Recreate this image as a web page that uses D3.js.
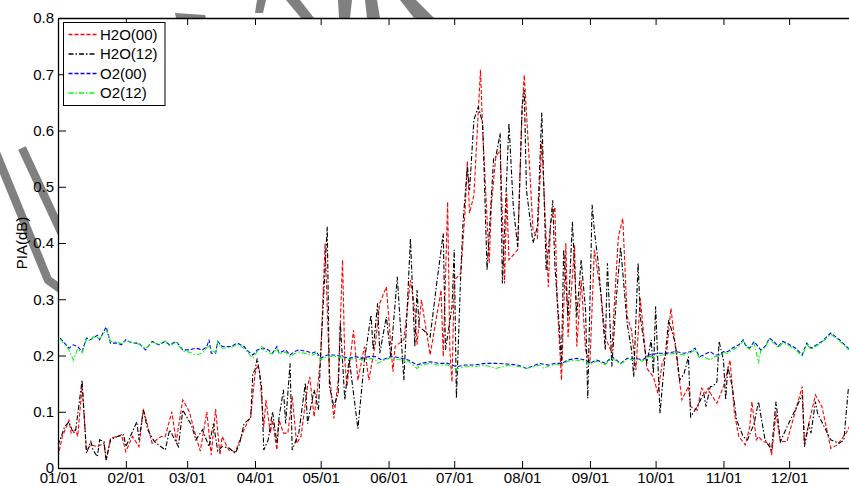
<!DOCTYPE html>
<html>
<head>
<meta charset="utf-8">
<script src="https://cdn.jsdelivr.net/npm/d3@7"></script>
<style>
  body { margin: 0; background: #fff; }
  svg { display: block; font-family: "Liberation Sans", Arial, sans-serif; }
  .axis text { font-size: 15px; fill: #000; }
  .axis path, .axis line { stroke: #000; }
</style>
</head>
<body>
<script>
// day-of-year (0 = 01/01) and PIA value in dB
const h2o00 = [[0,0.02],[2,0.056],[5,0.085],[6,0.062],[8,0.068],[9,0.056],[11,0.145],[13,0.032],[15,0.041],[18,0.038],[21,0.044],[22,0.014],[24,0.053],[27,0.056],[29,0.059],[31,0.029],[34,0.056],[37,0.038],[39,0.105],[43,0.044],[47,0.056],[49,0.056],[52,0.1],[54,0.047],[57,0.121],[60,0.1],[63,0.056],[65,0.03],[68,0.1],[70,0.023],[72,0.105],[74,0.023],[75,0.056],[78,0.032],[81,0.029],[85,0.068],[87,0.085],[88,0.089],[90,0.168],[91,0.18],[92,0.174],[94,0.073],[95,0.121],[97,0.062],[98,0.085],[100,0.032],[101,0.085],[103,0.062],[105,0.062],[107,0.127],[109,0.044],[111,0.056],[114,0.145],[115,0.162],[117,0.091],[118,0.121],[120,0.198],[122,0.4],[124,0.168],[126,0.088],[128,0.156],[130,0.37],[131,0.192],[132,0.145],[135,0.245],[137,0.156],[140,0.216],[142,0.156],[145,0.222],[147,0.293],[150,0.322],[153,0.171],[154,0.216],[158,0.228],[161,0.334],[163,0.281],[164,0.219],[166,0.299],[170,0.201],[175,0.316],[176,0.198],[178,0.473],[179,0.21],[180,0.153],[181,0.334],[184,0.346],[186,0.459],[187,0.545],[188,0.453],[190,0.485],[193,0.708],[194,0.601],[197,0.364],[198,0.47],[200,0.553],[202,0.565],[204,0.328],[205,0.488],[206,0.37],[210,0.388],[212,0.636],[213,0.699],[215,0.565],[217,0.423],[219,0.409],[221,0.58],[224,0.322],[225,0.435],[227,0.464],[228,0.299],[230,0.156],[232,0.4],[233,0.233],[236,0.396],[237,0.216],[239,0.334],[241,0.21],[243,0.186],[245,0.388],[248,0.311],[250,0.233],[253,0.204],[254,0.281],[256,0.411],[258,0.444],[260,0.269],[262,0.245],[264,0.174],[266,0.302],[269,0.177],[272,0.162],[274,0.133],[276,0.186],[278,0.204],[280,0.284],[282,0.216],[285,0.121],[288,0.145],[289,0.109],[292,0.103],[294,0.142],[296,0.133],[297,0.142],[298,0.133],[301,0.115],[304,0.145],[305,0.159],[307,0.192],[309,0.097],[311,0.056],[314,0.041],[316,0.073],[317,0.118],[319,0.05],[320,0.056],[322,0.047],[325,0.044],[326,0.023],[328,0.097],[330,0.047],[333,0.047],[340,0.145],[341,0.044],[343,0.079],[346,0.13],[349,0.109],[353,0.035],[356,0.041],[360,0.062],[363,0.085]];

const h2o12 = [[0,0.04],[2,0.062],[3,0.073],[5,0.082],[7,0.062],[8,0.065],[11,0.156],[13,0.026],[15,0.047],[16,0.032],[18,0.02],[19,0.05],[21,0.047],[22,0.014],[24,0.05],[27,0.056],[30,0.059],[31,0.038],[36,0.082],[37,0.05],[39,0.103],[41,0.068],[44,0.047],[49,0.032],[51,0.068],[55,0.038],[57,0.103],[61,0.076],[63,0.05],[66,0.068],[69,0.038],[71,0.079],[73,0.03],[75,0.038],[78,0.036],[81,0.026],[83,0.044],[85,0.079],[88,0.089],[89,0.168],[90,0.174],[91,0.195],[93,0.145],[94,0.032],[96,0.05],[98,0.1],[100,0.044],[101,0.091],[103,0.139],[104,0.079],[106,0.186],[107,0.032],[110,0.062],[113,0.151],[114,0.079],[117,0.139],[119,0.103],[120,0.204],[123,0.429],[124,0.145],[126,0.109],[128,0.133],[129,0.257],[131,0.121],[133,0.195],[137,0.07],[140,0.192],[143,0.272],[144,0.21],[146,0.293],[147,0.204],[150,0.269],[152,0.198],[155,0.34],[158,0.156],[161,0.408],[163,0.216],[164,0.316],[165,0.251],[167,0.245],[170,0.233],[173,0.328],[176,0.417],[177,0.21],[180,0.287],[181,0.388],[182,0.124],[184,0.346],[185,0.435],[187,0.536],[188,0.494],[190,0.619],[192,0.642],[194,0.613],[196,0.352],[199,0.55],[200,0.553],[202,0.595],[203,0.328],[206,0.613],[208,0.464],[210,0.393],[212,0.642],[213,0.672],[214,0.494],[217,0.4],[219,0.429],[221,0.632],[223,0.352],[224,0.388],[226,0.476],[227,0.358],[229,0.251],[230,0.186],[231,0.388],[233,0.269],[235,0.438],[237,0.269],[239,0.37],[241,0.281],[242,0.124],[244,0.468],[245,0.423],[247,0.358],[250,0.21],[251,0.364],[253,0.18],[255,0.299],[257,0.393],[260,0.257],[262,0.21],[263,0.162],[265,0.364],[266,0.269],[269,0.186],[271,0.228],[272,0.168],[273,0.287],[275,0.097],[277,0.186],[279,0.263],[282,0.222],[284,0.156],[286,0.168],[288,0.198],[289,0.091],[292,0.109],[295,0.133],[296,0.109],[298,0.145],[299,0.145],[301,0.153],[302,0.225],[304,0.192],[305,0.121],[306,0.18],[308,0.145],[310,0.085],[313,0.056],[315,0.05],[318,0.079],[320,0.118],[323,0.05],[326,0.032],[328,0.118],[330,0.047],[333,0.073],[336,0.097],[340,0.13],[341,0.038],[343,0.079],[344,0.062],[346,0.118],[347,0.097],[353,0.05],[357,0.044],[359,0.05],[361,0.139],[363,0.16]];

const o200 = [[1,0.231],[3,0.222],[5,0.213],[7,0.219],[9,0.216],[11,0.207],[13,0.231],[15,0.228],[16,0.231],[18,0.236],[19,0.228],[22,0.251],[24,0.222],[27,0.222],[29,0.219],[31,0.228],[34,0.222],[37,0.222],[40,0.21],[43,0.225],[46,0.219],[49,0.225],[51,0.219],[54,0.225],[57,0.21],[60,0.21],[63,0.213],[66,0.21],[68,0.216],[69,0.228],[70,0.204],[72,0.204],[73,0.225],[75,0.216],[79,0.216],[82,0.222],[85,0.216],[87,0.207],[89,0.201],[91,0.21],[94,0.213],[96,0.21],[98,0.204],[100,0.216],[101,0.204],[104,0.21],[106,0.201],[108,0.207],[110,0.21],[114,0.207],[116,0.204],[118,0.207],[120,0.195],[123,0.201],[126,0.201],[130,0.198],[133,0.195],[136,0.198],[139,0.195],[142,0.198],[145,0.198],[148,0.192],[152,0.198],[155,0.197],[160,0.192],[164,0.183],[166,0.186],[170,0.189],[174,0.186],[178,0.186],[182,0.18],[186,0.183],[190,0.183],[195,0.186],[200,0.186],[205,0.185],[210,0.183],[214,0.177],[218,0.183],[220,0.186],[224,0.183],[227,0.186],[230,0.186],[233,0.192],[237,0.195],[241,0.192],[243,0.186],[246,0.192],[250,0.186],[253,0.198],[257,0.186],[260,0.195],[264,0.195],[267,0.192],[270,0.201],[274,0.204],[278,0.204],[282,0.207],[286,0.204],[289,0.207],[291,0.213],[293,0.198],[295,0.201],[298,0.207],[300,0.201],[302,0.201],[304,0.207],[306,0.207],[308,0.213],[311,0.219],[313,0.228],[314,0.219],[316,0.213],[318,0.225],[321,0.21],[323,0.216],[325,0.231],[327,0.225],[329,0.216],[331,0.225],[333,0.222],[337,0.213],[340,0.201],[342,0.222],[344,0.213],[349,0.225],[353,0.24],[357,0.228],[361,0.213],[364,0.208]];

const o212 = [[1,0.229],[3,0.22],[5,0.21],[7,0.192],[9,0.212],[11,0.205],[13,0.229],[15,0.226],[16,0.233],[18,0.232],[19,0.229],[22,0.246],[24,0.225],[27,0.224],[29,0.221],[31,0.226],[34,0.223],[37,0.22],[40,0.212],[43,0.224],[46,0.22],[49,0.226],[51,0.217],[54,0.224],[57,0.208],[60,0.206],[63,0.201],[66,0.204],[68,0.214],[69,0.216],[70,0.21],[72,0.205],[73,0.224],[75,0.213],[79,0.214],[82,0.22],[85,0.213],[87,0.204],[89,0.195],[91,0.207],[93,0.216],[94,0.21],[96,0.205],[98,0.203],[100,0.212],[101,0.203],[104,0.206],[106,0.198],[108,0.203],[110,0.206],[114,0.203],[116,0.2],[118,0.204],[120,0.192],[123,0.198],[126,0.199],[130,0.195],[133,0.193],[136,0.195],[139,0.192],[142,0.195],[145,0.193],[146,0.186],[148,0.19],[152,0.196],[155,0.193],[160,0.19],[164,0.177],[166,0.183],[170,0.186],[174,0.183],[178,0.183],[182,0.176],[186,0.18],[190,0.18],[195,0.183],[200,0.177],[205,0.182],[210,0.181],[214,0.177],[218,0.181],[220,0.183],[222,0.177],[224,0.181],[227,0.184],[230,0.183],[233,0.19],[237,0.192],[241,0.19],[243,0.183],[246,0.19],[250,0.184],[253,0.195],[257,0.185],[260,0.193],[264,0.193],[267,0.19],[270,0.198],[272,0.198],[274,0.2],[278,0.202],[282,0.204],[286,0.201],[289,0.205],[291,0.21],[293,0.196],[295,0.198],[298,0.192],[300,0.198],[302,0.199],[304,0.205],[306,0.204],[308,0.21],[311,0.216],[313,0.226],[314,0.217],[316,0.211],[318,0.222],[319,0.206],[320,0.186],[321,0.208],[323,0.214],[325,0.229],[327,0.222],[329,0.214],[331,0.222],[333,0.22],[337,0.21],[340,0.199],[342,0.22],[344,0.211],[349,0.223],[353,0.238],[357,0.226],[361,0.211],[364,0.206]];

const yTicks = [0, 0.1, 0.2, 0.3, 0.4, 0.5, 0.6, 0.7, 0.8];
const seriesNames = ["H2O(00)", "H2O(12)", "O2(00)", "O2(12)"];

const width = 849;
const height = 486;
const margin = { top: 18, left: 58, right: -8, bottom: 18 };
const plotRight = width - margin.right;   // frame runs just past the window edge
const plotBottom = height - margin.bottom;

const svg = d3.select("body").append("svg")
  .attr("width", width)
  .attr("height", height);

// grey watermark strokes sitting in the margins
const wm = svg.append("g").attr("fill", "#808080").attr("stroke", "none");
[
  [[175,13],[205,15],[206,18],[176,18]],
  [[257,0],[266,0],[263,13],[255,13]],
  [[286,0],[300,0],[314,18],[301,18]],
  [[338,0],[352,0],[350,18],[339,18]],
  [[365,0],[377,0],[380,18],[367,18]],
  [[400,0],[416,0],[434,18],[414,18]]
].forEach(pts => wm.append("polygon").attr("points", pts.map(p => p.join(",")).join(" ")));
const wmLine = d3.line();
[
  [[22,148],[62,234]],
  [[-6,148],[48,280],[62,290]]
].forEach(pts => svg.append("path")
  .attr("d", wmLine(pts))
  .attr("fill", "none")
  .attr("stroke", "#808080")
  .attr("stroke-width", 8.5)
  .attr("stroke-linejoin", "round"));

const start = new Date(2011, 0, 1);
const toDate = d => d3.timeDay.offset(start, d);

const x = d3.scaleTime()
  .domain([start, new Date(2012, 0, 1)])
  .range([margin.left, plotRight]);

const y = d3.scaleLinear()
  .domain([0, 0.8])
  .range([plotBottom, margin.top]);

svg.append("rect")
  .attr("x", margin.left)
  .attr("y", margin.top)
  .attr("width", plotRight - margin.left)
  .attr("height", plotBottom - margin.top)
  .attr("fill", "#fff");

svg.append("clipPath").attr("id", "clip")
  .append("rect")
  .attr("x", margin.left)
  .attr("y", margin.top)
  .attr("width", plotRight - margin.left)
  .attr("height", plotBottom - margin.top);

const line = d3.line()
  .x(d => x(toDate(d[0])))
  .y(d => y(d[1]));

const series = [
  { name: seriesNames[0], data: h2o00, color: "#ff0000", dash: "4,2" },
  { name: seriesNames[1], data: h2o12, color: "#000000", dash: "5,2,1.5,2" },
  { name: seriesNames[2], data: o200, color: "#0000ff", dash: "4,2" },
  { name: seriesNames[3], data: o212, color: "#00ff00", dash: "5,2,1.5,2" }
];

const plot = svg.append("g").attr("clip-path", "url(#clip)");

plot.selectAll(".series")
  .data(series)
  .enter()
  .append("path")
  .attr("class", "series")
  .attr("d", d => line(d.data))
  .attr("fill", "none")
  .attr("stroke", d => d.color)
  .attr("stroke-width", 1.1)
  .attr("stroke-dasharray", d => d.dash);

// axes: ticks point inward on all four sides
const monthTicks = d3.timeMonth.range(start, new Date(2012, 0, 1));
const fmtY = v => v === 0 ? "0" : d3.format(".1f")(v);

svg.append("g")
  .attr("class", "axis")
  .attr("transform", `translate(0,${plotBottom})`)
  .call(d3.axisBottom(x).tickValues(monthTicks).tickFormat(d3.timeFormat("%m/%d"))
    .tickSizeInner(-7).tickSizeOuter(0).tickPadding(4));

svg.append("g")
  .attr("class", "axis")
  .attr("transform", `translate(0,${margin.top})`)
  .call(d3.axisTop(x).tickValues(monthTicks).tickFormat("")
    .tickSizeInner(-7).tickSizeOuter(0));

svg.append("g")
  .attr("class", "axis")
  .attr("transform", `translate(${margin.left},0)`)
  .call(d3.axisLeft(y).tickValues(yTicks).tickFormat(fmtY)
    .tickSizeInner(-8).tickSizeOuter(0).tickPadding(4));

svg.append("g")
  .attr("class", "axis")
  .attr("transform", `translate(${plotRight},0)`)
  .call(d3.axisRight(y).tickValues(yTicks).tickFormat("")
    .tickSizeInner(-8).tickSizeOuter(0));

svg.selectAll(".axis .domain").attr("stroke-width", 1.3);

svg.append("text")
  .attr("transform", "rotate(-90)")
  .attr("x", -(margin.top + plotBottom) / 2)
  .attr("y", 27)
  .attr("text-anchor", "middle")
  .attr("font-size", 15)
  .text("PIA(dB)");

// legend
const legend = svg.append("g").attr("transform", "translate(63.5,22.5)");

legend.append("rect")
  .attr("width", 101.5)
  .attr("height", 83)
  .attr("fill", "#fff")
  .attr("stroke", "#000");

const item = legend.selectAll(".item")
  .data(series)
  .enter()
  .append("g")
  .attr("class", "item")
  .attr("transform", (d, i) => `translate(0,${12 + i * 19.5})`);

item.append("line")
  .attr("x1", 5)
  .attr("x2", 33)
  .attr("stroke", d => d.color)
  .attr("stroke-width", 1.3)
  .attr("stroke-dasharray", d => d.dash);

item.append("text")
  .attr("x", 36.5)
  .attr("dy", "0.35em")
  .attr("font-size", 15)
  .text(d => d.name);
</script>
</body>
</html>
